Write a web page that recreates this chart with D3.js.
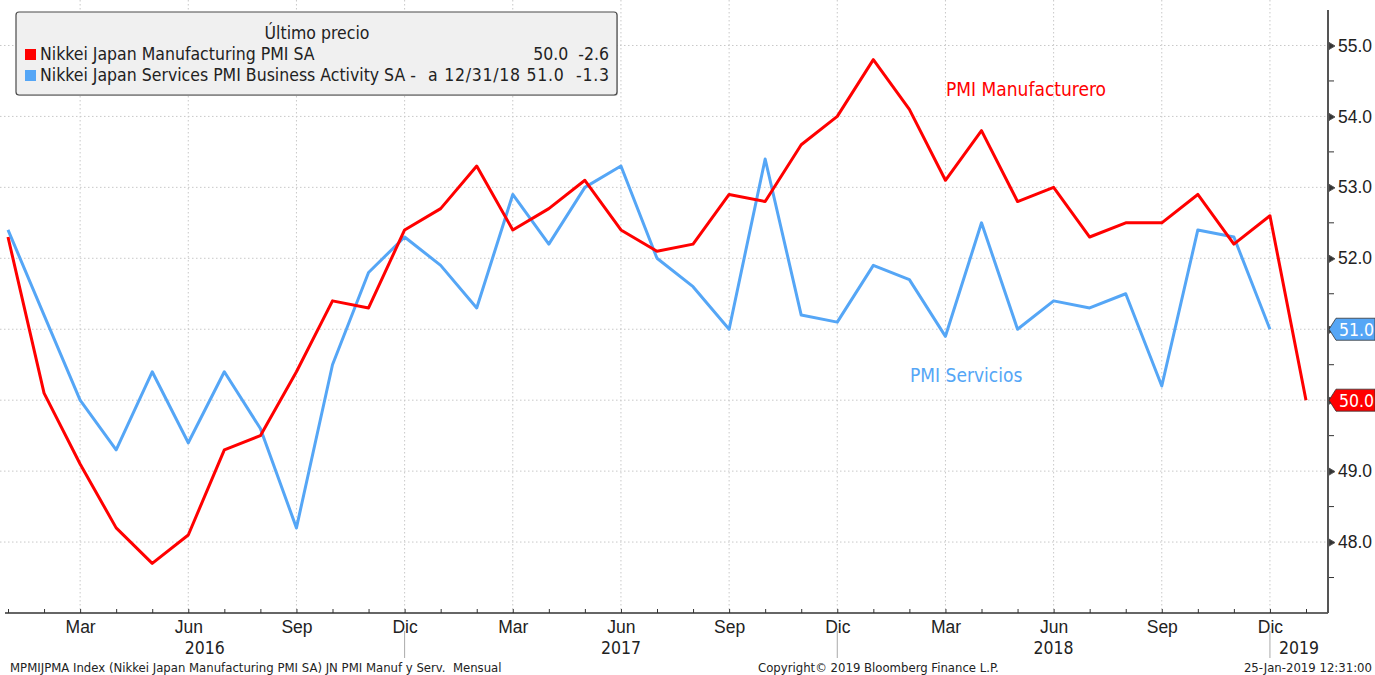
<!DOCTYPE html>
<html>
<head>
<meta charset="utf-8">
<style>
body { margin: 0; background: #fff; }
svg { display: block; font-family: "DejaVu Sans Condensed", "Liberation Sans Narrow", "DejaVu Sans", sans-serif; }
.grid line { stroke: #c8c8c8; stroke-dasharray: 1.5,2.5; }
.axis--x path, .axis--x line { stroke: #333; }
.axis--y path { stroke: #555; }
.line { fill: none; stroke-width: 3px; stroke-linejoin: round; }
</style>
</head>
<body>
<svg width="1375" height="675"></svg>
<script src="https://cdn.jsdelivr.net/npm/d3@7"></script>
<script>

// monthly data, Jan 2016 .. Jan 2019
var months = d3.timeMonth.range(new Date(2016, 0, 1), new Date(2019, 1, 1));

var manufacturing = [52.3, 50.1, 49.1, 48.2, 47.7, 48.1, 49.3, 49.5, 50.4, 51.4, 51.3, 52.4,
                     52.7, 53.3, 52.4, 52.7, 53.1, 52.4, 52.1, 52.2, 52.9, 52.8, 53.6, 54.0,
                     54.8, 54.1, 53.1, 53.8, 52.8, 53.0, 52.3, 52.5, 52.5, 52.9, 52.2, 52.6,
                     50.0];

// services ends at Dec 2018
var services = [52.4, 51.2, 50.0, 49.3, 50.4, 49.4, 50.4, 49.6, 48.2, 50.5, 51.8, 52.3,
                51.9, 51.3, 52.9, 52.2, 53.0, 53.3, 52.0, 51.6, 51.0, 53.4, 51.2, 51.1,
                51.9, 51.7, 50.9, 52.5, 51.0, 51.4, 51.3, 51.5, 50.2, 52.4, 52.3, 51.0];

var monthNames = {2: "Mar", 5: "Jun", 8: "Sep", 11: "Dic"};
var yTicks = [48, 49, 50, 51, 52, 53, 54, 55];
var years = ["2016", "2017", "2018", "2019"];

var legendRows = [
  {name: "Nikkei Japan Manufacturing PMI SA", info: "50.0  -2.6", color: "#ff0000"},
  {name: "Nikkei Japan Services PMI Business Activity SA -", info: "a 12/31/18 51.0  -1.3", color: "#55a6f6"}
];

var redColor = "#ff0000", blueColor = "#55a6f6";

var svg = d3.select("svg"),
    pLeft = 5, pRight = 1328, pTop = 10, pBottom = 613;

var x = d3.scaleLinear().domain([0, 36]).range([8, 1306]);
var y = d3.scaleLinear().domain([47, 55.5]).range([pBottom, pTop]);

// grid
var grid = svg.append("g").attr("class", "grid");
grid.selectAll(".h").data(yTicks).enter().append("line")
  .attr("x1", 0).attr("x2", pRight)
  .attr("y1", function(d) { return y(d); }).attr("y2", function(d) { return y(d); });
var quarterIdx = d3.range(0, months.length).filter(function(i) { return months[i].getMonth() % 3 == 2; });
grid.selectAll(".v").data(quarterIdx).enter().append("line")
  .attr("x1", function(d) { return x(d); }).attr("x2", function(d) { return x(d); })
  .attr("y1", 0).attr("y2", pBottom);

// x axis, ticks every month pointing up
var xAxis = d3.axisBottom(x)
  .tickValues(d3.range(0, months.length))
  .tickSize(-4)
  .tickPadding(8)
  .tickFormat(function(i) { return monthNames[months[i].getMonth()] || ""; });

var gx = svg.append("g")
  .attr("class", "axis axis--x")
  .attr("transform", "translate(0," + pBottom + ")")
  .call(xAxis);
gx.select(".domain").attr("d", "M" + pLeft + ",0H" + pRight).attr("stroke-width", 1.5);
gx.selectAll("text").attr("font-size", 17.5).attr("fill", "#222").attr("font-family", null);

// year separators and labels
var sepIdx = quarterIdx.filter(function(i) { return months[i].getMonth() == 11; });
svg.selectAll(".sep").data(sepIdx).enter().append("line")
  .attr("x1", function(d) { return x(d); }).attr("x2", function(d) { return x(d); })
  .attr("y1", pBottom + 18).attr("y2", pBottom + 45)
  .attr("stroke", "#aaa").attr("stroke-width", 1);

var bounds = [pLeft].concat(sepIdx.map(function(d) { return x(d); })).concat([pRight]);
svg.selectAll(".year").data(years).enter().append("text")
  .attr("x", function(d, i) { return (bounds[i] + bounds[i + 1]) / 2; })
  .attr("y", 654)
  .attr("text-anchor", "middle")
  .attr("font-size", 17.5).attr("fill", "#222")
  .text(function(d) { return d; });

// right axis
var yAxis = d3.axisRight(y).tickValues(yTicks).tickSize(0).tickPadding(10)
  .tickFormat(d3.format(".1f"));
var gy = svg.append("g")
  .attr("class", "axis axis--y")
  .attr("transform", "translate(" + pRight + ",0)")
  .call(yAxis);
gy.select(".domain").attr("d", "M0," + pTop + "V" + pBottom).attr("stroke-width", 2);
gy.selectAll("text").attr("font-size", 17.5).attr("fill", "#222").attr("font-family", null);
gy.selectAll(".tick").append("path")
  .attr("d", "M1,-3.5L7,0L1,3.5Z").attr("fill", "#333");
var minor = d3.range(47.5, 55.5, 1);
gy.selectAll(".minor").data(minor).enter().append("line")
  .attr("x1", 1).attr("x2", 6)
  .attr("y1", function(d) { return y(d); }).attr("y2", function(d) { return y(d); })
  .attr("stroke", "#333");

// lines
var line = d3.line().x(function(d, i) { return x(i); }).y(function(d) { return y(d); });
svg.append("path").datum(services).attr("class", "line").attr("stroke", blueColor).attr("d", line);
svg.append("path").datum(manufacturing).attr("class", "line").attr("stroke", redColor).attr("d", line);

// last value tags
var tags = [
  {v: services[services.length - 1], color: blueColor},
  {v: manufacturing[manufacturing.length - 1], color: redColor}
];
var gt = svg.selectAll(".tag").data(tags).enter().append("g")
  .attr("transform", function(d) { return "translate(" + pRight + "," + y(d.v) + ")"; });
gt.append("path")
  .attr("d", "M1,0L8,-11H47V11H8Z")
  .attr("fill", function(d) { return d.color; })
  .attr("stroke", "#333").attr("stroke-width", 0.8);
gt.append("text").attr("x", 11).attr("y", 6.5)
  .attr("font-size", 17.5).attr("fill", "#fff")
  .text(function(d) { return d3.format(".1f")(d.v); });

// annotations
svg.append("text").attr("x", 946).attr("y", 96).attr("font-size", 19)
  .attr("fill", redColor).text("PMI Manufacturero");
svg.append("text").attr("x", 910).attr("y", 382).attr("font-size", 19)
  .attr("fill", blueColor).text("PMI Servicios");

// legend
var lg = svg.append("g");
lg.append("rect").attr("x", 17).attr("y", 13).attr("width", 601).attr("height", 83)
  .attr("rx", 3).attr("fill", "#999").attr("opacity", 0.5);
lg.append("rect").attr("x", 16).attr("y", 12).attr("width", 601).attr("height", 83)
  .attr("rx", 3).attr("fill", "#f0f0f0").attr("stroke", "#4a4a4a").attr("stroke-width", 1.2);
lg.append("text").attr("x", 317).attr("y", 39).attr("text-anchor", "middle")
  .attr("font-size", 17.5).attr("fill", "#222").text("Último precio");
var rows = lg.selectAll(".row").data(legendRows).enter().append("g")
  .attr("transform", function(d, i) { return "translate(0," + (54 + i * 21) + ")"; });
rows.append("rect").attr("x", 25).attr("y", -5).attr("width", 11).attr("height", 11)
  .attr("fill", function(d) { return d.color; });
rows.append("text").attr("x", 40).attr("y", 6).attr("font-size", 17.5).attr("fill", "#222")
  .text(function(d) { return d.name; });
rows.append("text").attr("x", 609).attr("y", 6).attr("font-size", 17.5).attr("fill", "#222")
  .attr("text-anchor", "end").style("white-space", "pre")
  .attr("textLength", function(d, i) { return i == 1 ? 181 : null; })
  .attr("lengthAdjust", "spacing")
  .text(function(d) { return d.info; });

// footer
var foot = svg.append("g").attr("font-size", 13).attr("fill", "#222");
foot.append("text").attr("x", 10).attr("y", 672).style("white-space", "pre")
  .text("MPMIJPMA Index (Nikkei Japan Manufacturing PMI SA) JN PMI Manuf y Serv.  Mensual");
foot.append("text").attr("x", 758).attr("y", 672).text("Copyright\u00a9 2019 Bloomberg Finance L.P.");
foot.append("text").attr("x", 1372).attr("y", 672).attr("text-anchor", "end").text("25-Jan-2019 12:31:00");

</script>
</body>
</html>
